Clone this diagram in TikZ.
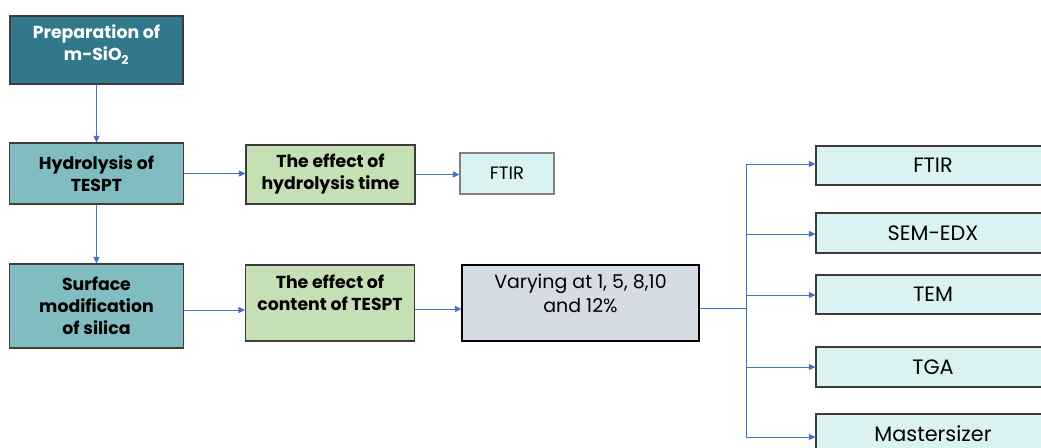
\documentclass[tikz,border=0pt]{standalone}
\usepackage{fontspec}
\setmainfont{Poppins}
\usetikzlibrary{arrows.meta}
\definecolor{tealdark}{HTML}{31798A}
\definecolor{teallight}{HTML}{80BCC0}
\definecolor{greenbox}{HTML}{C5E0B4}
\definecolor{cyanbox}{HTML}{DAF2F2}
\definecolor{greybox}{HTML}{D6DCE5}
\definecolor{edge}{HTML}{3C3C3C}
\definecolor{arrowblue}{HTML}{4472C4}
\definecolor{trunkblue}{HTML}{2E75B6}
\tikzset{
  box/.style={draw=edge, line width=1.1pt, inner sep=1pt, align=center},
  boldtext/.style={font=\fontsize{17.3}{22}\selectfont\bfseries},
  stepdark/.style={box, boldtext, fill=tealdark, text=white},
  steplight/.style={box, boldtext, fill=teallight},
  effectbox/.style={box, boldtext, fill=greenbox},
  testbox/.style={box, fill=cyanbox, font=\fontsize{20.8}{24}\selectfont},
  smalltest/.style={box, fill=cyanbox, draw=gray, font=\fontsize{18}{22}\selectfont},
  varybox/.style={box, fill=greybox, draw=black, font=\fontsize{19}{24}\selectfont},
  link/.style={draw=arrowblue, line width=0.9pt, -{Triangle[length=6.5pt,width=6pt]}},
}
\begin{document}
\begin{tikzpicture}[x=1pt, y=-1pt]
\useasboundingbox (0,0) rectangle (1041,447);

% main process column
\node[stepdark, minimum width=173pt, minimum height=68pt, text depth=14pt] (prep) at (96.5,50) {Preparation of\\m-SiO\textsubscript{2}};
\node[steplight, minimum width=174pt, minimum height=61pt] (hyd) at (96.5,173.5) {Hydrolysis of\\TESPT};
\node[steplight, minimum width=174pt, minimum height=84pt] (surf) at (96.5,306) {Surface\\modification\\of silica};

% studied effects
\node[effectbox, minimum width=169pt, minimum height=59pt] (effh) at (330.5,174.5) {The effect of\\hydrolysis time};
\node[effectbox, minimum width=169pt, minimum height=76pt, text depth=20pt] (effc) at (330,303) {The effect of\\content of TESPT};

% characterisation and loading
\node[smalltest, minimum width=94pt, minimum height=41pt] (ftirA) at (507,173.5) {FTIR};
\node[varybox, minimum width=237pt, minimum height=76pt, text depth=20pt] (vary) at (580.5,303) {Varying at 1, 5, 8,10\\and 12\%};

% analysis column
\node[testbox, minimum width=234pt, minimum height=39pt] (ftirB) at (933,165.5) {FTIR};
\node[testbox, minimum width=234pt, minimum height=40pt] (sem) at (933,233) {SEM-EDX};
\node[testbox, minimum width=234pt, minimum height=39pt] (tem) at (933,294.5) {TEM};
\node[testbox, minimum width=234pt, minimum height=40pt] (tga) at (933,367) {TGA};
\node[testbox, minimum width=234pt, minimum height=40pt] (mast) at (933,434) {Mastersizer};

% connectors
\draw[link] (prep.south) -- (hyd.north);
\draw[link] (hyd.south) -- (surf.north);
\draw[link] (hyd.east) -- (effh.west |- hyd.east);
\draw[link] (effh.east) -- (ftirA.west |- effh.east);
\draw[link] ([yshift=-4pt]surf.east) -- ([yshift=-4pt]effc.west |- surf.east);
\draw[link] ([yshift=-6pt]effc.east) -- ([yshift=-6pt]vary.west |- effc.east);

\coordinate (split) at (746,308);
\coordinate (top) at (746,164);
\coordinate (bot) at (746,437);
\draw[trunkblue, line width=0.9pt] ([yshift=-5pt]vary.east) -- (split);
\draw[trunkblue, line width=0.9pt] (top) -- (bot);
\draw[link] (top) -- (ftirB.west |- top);
\draw[link] (746,234) -- (sem.west |- 0,234);
\draw[link] (746,295) -- (tem.west |- 0,295);
\draw[link] (746,367) -- (tga.west |- 0,367);
\draw[link] (bot) -- (mast.west |- bot);
\end{tikzpicture}
\end{document}
